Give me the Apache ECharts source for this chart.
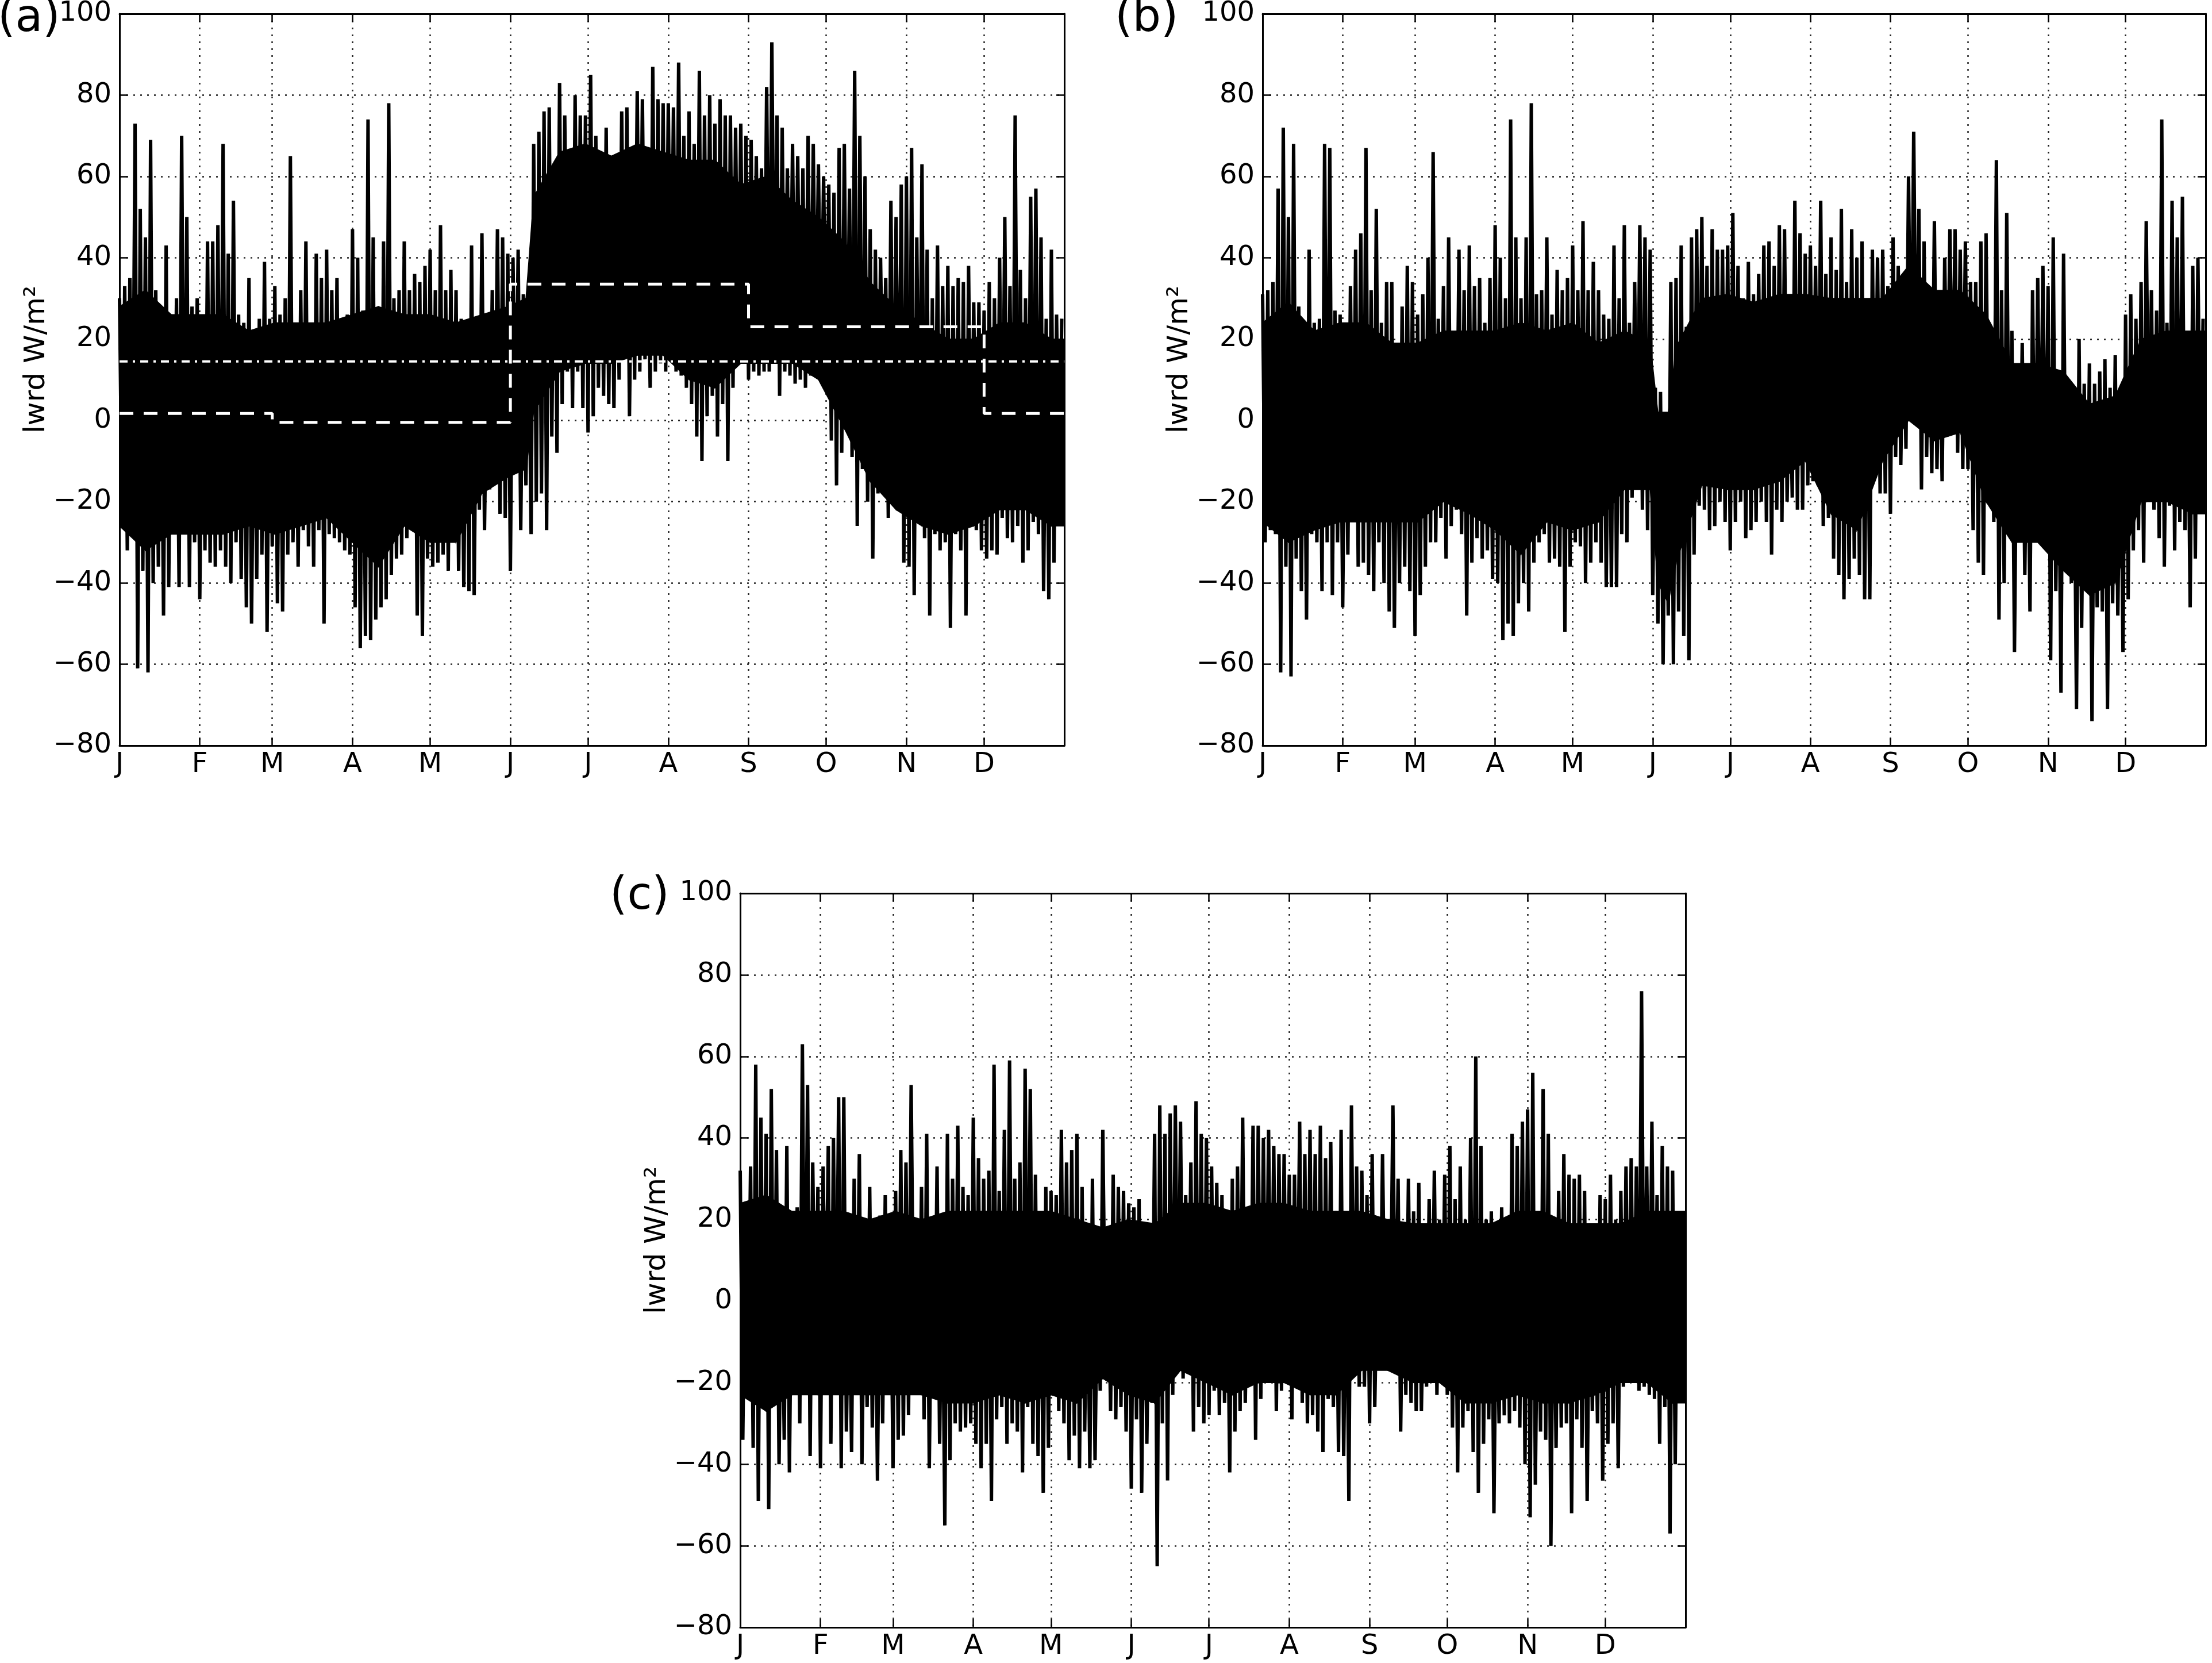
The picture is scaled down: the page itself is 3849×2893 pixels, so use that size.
<!DOCTYPE html>
<html>
<head>
<meta charset="utf-8">
<script src="https://cdn.jsdelivr.net/npm/echarts@6/dist/echarts.min.js"></script>
<style>
  html, body { margin: 0; padding: 0; background: #fff; }
  #chart { width: 3849px; height: 2893px; }
</style>
</head>
<body>
<div id="chart"></div>
<script>
// month starts (day of year) and their labels
const monthDays = [0, 31, 59, 90, 120, 151, 181, 212, 243, 273, 304, 334];
const monthLabels = ['J', 'F', 'M', 'A', 'M', 'J', 'J', 'A', 'S', 'O', 'N', 'D'];

// *High = local peak on even days (0,2,...,364), *Low = local trough on odd days (1,3,...,363)
const aHigh = [
  30, 33, 35, 73, 52, 45, 69, 32, 22, 43,
  24, 30, 70, 50, 28, 30, 20, 44, 44, 48,
  68, 41, 54, 26, 24, 35, 18, 25, 39, 25,
  33, 26, 30, 65, 21, 32, 44, 15, 41, 35,
  42, 32, 35, 20, 26, 47, 40, 27, 74, 45,
  27, 44, 78, 30, 32, 44, 32, 36, 34, 38,
  42, 32, 48, 32, 37, 32, 25, 20, 43, 24,
  46, 21, 32, 47, 45, 41, 40, 42, 31, 29,
  68, 71, 76, 77, 61, 83, 75, 64, 80, 75,
  75, 85, 70, 64, 72, 64, 65, 76, 77, 55,
  81, 79, 45, 87, 79, 78, 78, 77, 88, 70,
  76, 68, 86, 75, 80, 73, 79, 75, 75, 72,
  73, 70, 69, 65, 62, 82, 93, 75, 72, 62,
  68, 65, 62, 70, 68, 63, 60, 58, 56, 67,
  68, 57, 86, 70, 60, 47, 42, 40, 35, 54,
  50, 58, 60, 67, 45, 63, 42, 30, 43, 33,
  38, 33, 35, 34, 38, 29, 29, 27, 34, 30,
  40, 50, 33, 75, 37, 30, 55, 57, 45, 25,
  42, 26, 25
];
const aLow = [
  -25, -32, -24, -61, -37, -62, -40, -36, -48, -41,
  -26, -41, -28, -41, -30, -44, -32, -35, -36, -32,
  -36, -40, -30, -39, -46, -50, -39, -33, -52, -31,
  -45, -47, -33, -30, -36, -27, -31, -36, -27, -50,
  -28, -29, -30, -32, -33, -46, -56, -53, -54, -49,
  -46, -44, -38, -34, -33, -29, -26, -48, -53, -34,
  -36, -35, -33, -37, -30, -37, -41, -42, -43, -22,
  -27, -17, -13, -23, -24, -37, -11, -27, -16, -28,
  -20, -18, -27, -4, -8, 4, 12, 3, 12, 3,
  -3, 1, 8, 6, 4, 3, 10, 15, 1, 10,
  12, 15, 8, 12, 14, 12, 17, 12, 11, 8,
  4, -4, -10, 1, 6, -4, 4, -10, 8, 15,
  14, 10, 12, 11, 12, 12, 18, 6, 12, 11,
  9, 10, 8, 11, 17, 14, 13, -5, -16, -8,
  2, -9, -26, -12, -20, -34, -18, -2, -24, -18,
  -14, -35, -36, -43, -20, -29, -48, -28, -32, -30,
  -51, -28, -32, -48, -22, -27, -32, -34, -32, -33,
  -24, -29, -30, -26, -35, -32, -25, -28, -42, -44,
  -35, -19
];
// dense core of the trace (solid black band)
const aCoreDays = [0, 10, 20, 30, 40, 50, 60, 70, 80, 90, 100, 110, 120, 130, 140, 150, 157,
  160, 170, 180, 190, 200, 210, 220, 230, 240, 250, 260, 270, 280, 290, 300, 310, 320, 330, 340, 350, 360, 365];
const aCoreHigh = [28, 32, 26, 26, 26, 22, 24, 24, 24, 26, 28, 26, 26, 24, 26, 28, 30,
  55, 66, 68, 65, 68, 66, 64, 64, 58, 60, 54, 50, 44, 34, 28, 24, 20, 20, 24, 24, 20, 20];
const aCoreLow = [-26, -32, -28, -28, -28, -26, -28, -26, -24, -30, -36, -26, -30, -30, -18, -14, -12,
  2, 12, 14, 14, 16, 16, 10, 8, 14, 14, 14, 10, -2, -15, -22, -26, -28, -26, -22, -22, -26, -26];
// seasonal means (DJF, MAM, JJA, SON, D) and annual mean, panel (a)
const seasonStart = [0, 59, 151, 243, 334, 365];
const seasonMean = [1.7, -0.5, 33.5, 23, 1.7];
const annualMean = 14.5;

const bHigh = [
  31, 32, 34, 57, 72, 50, 68, 28, 22, 42,
  24, 25, 68, 67, 27, 26, 20, 33, 42, 46,
  67, 32, 52, 24, 34, 34, 14, 28, 38, 34,
  26, 31, 40, 66, 25, 33, 45, 16, 42, 32,
  43, 33, 35, 24, 35, 48, 40, 30, 74, 45,
  30, 45, 78, 31, 32, 45, 26, 37, 32, 35,
  43, 32, 49, 32, 39, 32, 26, 25, 43, 30,
  48, 24, 34, 48, 45, 42, 8, 7, 0, 34,
  35, 43, 23, 45, 47, 50, 38, 47, 42, 42,
  43, 51, 38, 30, 39, 31, 36, 43, 44, 38,
  48, 47, 16, 54, 46, 41, 43, 38, 54, 36,
  45, 37, 52, 34, 47, 40, 44, 22, 42, 40,
  42, 33, 45, 38, 32, 60, 71, 52, 44, 29,
  49, 24, 40, 47, 47, 42, 44, 34, 34, 44,
  46, 21, 64, 32, 51, 22, 13, 19, 11, 32,
  35, 38, 33, 45, 6, 41, 9, 2, 20, 9,
  14, 9, 12, 15, 8, 16, 5, 26, 31, 25,
  34, 49, 32, 27, 74, 24, 54, 45, 55, 17,
  38, 40, 25
];
const bLow = [
  -30, -27, -28, -62, -36, -63, -34, -42, -49, -28,
  -30, -42, -30, -43, -30, -46, -33, -25, -36, -35,
  -38, -42, -30, -40, -47, -51, -40, -36, -42, -53,
  -43, -36, -30, -30, -24, -34, -26, -22, -28, -48,
  -35, -29, -34, -32, -39, -40, -54, -50, -53, -45,
  -40, -47, -35, -30, -28, -35, -34, -36, -52, -36,
  -30, -31, -40, -35, -30, -35, -41, -41, -41, -28,
  -30, -19, -15, -22, -27, -43, -50, -60, -48, -60,
  -47, -53, -59, -33, -21, -22, -27, -26, -20, -25,
  -32, -25, -20, -29, -27, -25, -20, -25, -33, -22,
  -25, -20, -19, -22, -22, -16, -15, -16, -26, -24,
  -34, -38, -44, -39, -34, -38, -44, -44, -14, -18,
  -18, -23, -9, -11, -7, 0, 2, -17, -9, -13,
  -12, -15, -4, 1, -8, -12, -12, -27, -35, -38,
  -15, -25, -49, -40, -22, -57, -30, -38, -47, -28,
  -20, -25, -59, -42, -67, -34, -40, -71, -51, -42,
  -74, -46, -47, -71, -45, -48, -57, -44, -32, -27,
  -35, -15, -22, -29, -36, -21, -32, -25, -27, -46,
  -34, -21
];
const bCoreDays = [0, 10, 20, 30, 40, 50, 60, 70, 80, 90, 100, 110, 120, 130, 140, 150, 153, 157,
  160, 170, 180, 190, 200, 210, 220, 230, 240, 250, 260, 270, 280, 290, 300, 310, 320, 330, 340, 350, 360, 365];
const bCoreHigh = [24, 29, 22, 24, 24, 19, 19, 22, 22, 22, 24, 22, 24, 19, 22, 19, 2, 2,
  18, 30, 31, 29, 31, 31, 30, 30, 30, 38, 32, 32, 26, 14, 14, 12, 4, 6, 20, 22, 22, 22];
const bCoreLow = [-25, -30, -27, -25, -25, -25, -25, -20, -23, -27, -33, -25, -27, -25, -17, -17, -40, -45,
  -35, -16, -17, -17, -15, -10, -23, -27, -10, 0, -5, -3, -20, -30, -30, -37, -43, -40, -20, -20, -23, -23];

const cHigh = [
  32, 22, 33, 58, 45, 41, 52, 37, 14, 38,
  20, 23, 63, 53, 34, 28, 33, 38, 40, 50,
  50, 10, 30, 36, 9, 28, 18, 21, 26, 17,
  27, 37, 34, 53, 20, 28, 41, 15, 33, 14,
  41, 30, 43, 28, 26, 45, 35, 30, 32, 58,
  27, 42, 59, 30, 34, 57, 52, 31, 22, 28,
  27, 26, 42, 34, 37, 41, 28, 14, 30, 10,
  42, 12, 31, 28, 27, 24, 23, 25, 16, 14,
  41, 48, 41, 46, 48, 44, 26, 34, 49, 41,
  40, 33, 29, 26, 14, 30, 33, 45, 12, 43,
  43, 40, 42, 38, 36, 36, 31, 31, 44, 36,
  42, 36, 43, 35, 39, 20, 42, 16, 48, 33,
  32, 26, 36, 10, 36, 16, 48, 30, 18, 30,
  22, 29, 8, 25, 32, 20, 31, 38, 25, 33,
  20, 40, 60, 38, 20, 22, 10, 23, 20, 41,
  38, 44, 47, 56, 14, 52, 41, 19, 27, 36,
  31, 30, 31, 27, 16, 10, 26, 25, 31, 20,
  27, 33, 35, 33, 76, 33, 44, 26, 38, 33,
  32, 20, 21
];
const cLow = [
  -34, -20, -36, -49, -22, -51, -25, -40, -34, -42,
  -17, -30, -21, -38, -15, -41, -11, -35, -22, -41,
  -32, -37, -18, -40, -26, -31, -44, -30, -22, -41,
  -34, -33, -28, -14, -20, -29, -41, -23, -35, -55,
  -39, -30, -32, -31, -30, -35, -41, -35, -49, -29,
  -26, -35, -30, -32, -42, -26, -35, -38, -47, -36,
  -21, -27, -30, -39, -33, -41, -32, -41, -39, -22,
  -14, -27, -29, -26, -32, -46, -29, -47, -35, -25,
  -65, -30, -44, -23, -17, -19, -15, -32, -26, -30,
  -28, -22, -28, -25, -42, -32, -27, -25, -19, -34,
  -24, -20, -18, -27, -22, -20, -29, -14, -25, -30,
  -28, -32, -37, -24, -26, -37, -38, -49, -16, -21,
  -21, -30, -26, -15, -13, -10, -17, -32, -23, -25,
  -27, -27, -21, -20, -23, -20, -23, -31, -42, -31,
  -27, -37, -47, -35, -29, -52, -30, -28, -30, -27,
  -31, -40, -53, -45, -32, -34, -60, -36, -31, -30,
  -52, -29, -36, -49, -27, -30, -44, -35, -30, -41,
  -21, -18, -16, -22, -21, -23, -24, -35, -26, -57,
  -40, -24
];
const cCoreDays = [0, 10, 20, 30, 40, 50, 60, 70, 80, 90, 100, 110, 120, 130, 140, 150,
  160, 170, 180, 190, 200, 210, 220, 230, 240, 250, 260, 270, 280, 290, 300, 310, 320, 330, 340, 350, 360, 365];
const cCoreHigh = [24, 26, 22, 22, 22, 20, 22, 20, 22, 22, 22, 22, 22, 20, 18, 20,
  19, 24, 24, 22, 24, 24, 22, 22, 22, 20, 19, 19, 19, 19, 22, 22, 19, 19, 19, 22, 22, 22];
const cCoreLow = [-23, -27, -23, -23, -23, -23, -23, -23, -25, -25, -23, -25, -23, -25, -19, -23,
  -25, -17, -20, -23, -20, -20, -23, -23, -17, -17, -20, -20, -25, -25, -23, -25, -25, -23, -20, -20, -25, -25];

const panels = [
  { label: '(a)', high: aHigh, low: aLow, coreDays: aCoreDays, coreHigh: aCoreHigh, coreLow: aCoreLow, means: true },
  { label: '(b)', high: bHigh, low: bLow, coreDays: bCoreDays, coreHigh: bCoreHigh, coreLow: bCoreLow },
  { label: '(c)', high: cHigh, low: cLow, coreDays: cCoreDays, coreHigh: cCoreHigh, coreLow: cCoreLow }
];

// pixel layout of the three plot frames
const layout = [
  { left: 208, top: 21, width: 1644, height: 1276, labelLeft: -4, labelTop: -5 },
  { left: 2197, top: 21, width: 1641, height: 1276, labelLeft: 1940, labelTop: -5 },
  { left: 1288, top: 1554, width: 1645, height: 1277, labelLeft: 1061, labelTop: 1522 }
];

const FONT = 'DejaVu Sans';
const frame = { color: '#000', width: 3 };
const grid = { color: '#222', width: 2.5, type: [3, 9] };
const tick = { inside: true, length: 14, lineStyle: { color: '#000', width: 2.5 } };

const zigzag = (high, low) => {
  const pts = [];
  high.forEach((v, i) => {
    pts.push([2 * i, v]);
    if (i < low.length) pts.push([2 * i + 1, low[i]]);
  });
  return pts;
};

// core band as quads between consecutive samples: [d0, lo0, hi0, d1, lo1, hi1]
const coreSegments = pn => pn.coreDays.slice(1).map((d, i) => [
  pn.coreDays[i], pn.coreLow[i], pn.coreHigh[i], d, pn.coreLow[i + 1], pn.coreHigh[i + 1]
]);

const renderBand = (params, api) => {
  const p0 = api.coord([api.value(0), api.value(1)]);
  const p1 = api.coord([api.value(3), api.value(4)]);
  const p2 = api.coord([api.value(3), api.value(5)]);
  const p3 = api.coord([api.value(0), api.value(2)]);
  return {
    type: 'polygon',
    shape: { points: [p0, p1, p2, p3] },
    style: { fill: '#000', stroke: '#000', lineWidth: 1.5 }
  };
};

const xAxis = [];
const yAxis = [];
const series = [];

panels.forEach((pn, p) => {
  xAxis.push({
    type: 'value', gridIndex: p, min: 0, max: 365, position: 'bottom',
    axisLine: { show: true, onZero: false, lineStyle: frame },
    axisTick: Object.assign({ show: true, customValues: monthDays }, tick),
    axisLabel: {
      customValues: monthDays, formatter: v => monthLabels[monthDays.indexOf(v)] || '',
      fontSize: 48, fontFamily: FONT, color: '#000', margin: 10
    },
    splitLine: { show: true, lineStyle: grid }
  }, {
    type: 'value', gridIndex: p, min: 0, max: 365, position: 'top',
    axisLine: { show: true, onZero: false, lineStyle: frame },
    axisTick: Object.assign({ show: true, customValues: monthDays }, tick),
    axisLabel: { show: false },
    splitLine: { show: false }
  });
  yAxis.push({
    type: 'value', gridIndex: p, min: -80, max: 100, interval: 20, position: 'left',
    name: 'lwrd W/m²', nameLocation: 'middle', nameGap: 86,
    nameTextStyle: { fontSize: 50, fontFamily: FONT, color: '#000', padding: [0, 0, 0, 70] },
    axisLine: { show: true, onZero: false, lineStyle: frame },
    axisTick: Object.assign({ show: true }, tick),
    axisLabel: {
      formatter: v => (v < 0 ? '\u2212' + (-v) : String(v)),
      fontSize: 48, fontFamily: FONT, color: '#000', margin: 14
    },
    splitLine: { show: true, lineStyle: grid }
  }, {
    type: 'value', gridIndex: p, min: -80, max: 100, interval: 20, position: 'right',
    axisLine: { show: true, onZero: false, lineStyle: frame },
    axisTick: Object.assign({ show: true }, tick),
    axisLabel: { show: false },
    splitLine: { show: false }
  });

  const xi = 2 * p, yi = 2 * p;
  series.push({
    type: 'custom', xAxisIndex: xi, yAxisIndex: yi, silent: true, z: 2,
    renderItem: renderBand,
    encode: { x: [0, 3], y: [1, 2, 4, 5] },
    data: coreSegments(pn)
  }, {
    type: 'line', xAxisIndex: xi, yAxisIndex: yi, symbol: 'none', silent: true, z: 3,
    lineStyle: { color: '#000', width: 6, join: 'bevel', cap: 'butt' },
    data: zigzag(pn.high, pn.low)
  });

  if (pn.means) {
    series.push({
      type: 'line', xAxisIndex: xi, yAxisIndex: yi, symbol: 'none', silent: true, z: 6,
      step: 'end',
      lineStyle: { color: '#fff', width: 5, type: [24, 18] },
      data: seasonStart.map((d, i) => [d, seasonMean[Math.min(i, seasonMean.length - 1)]])
    }, {
      type: 'line', xAxisIndex: xi, yAxisIndex: yi, symbol: 'none', silent: true, z: 6,
      lineStyle: { color: '#fff', width: 4, type: [14, 9, 4, 9] },
      data: [[0, annualMean], [365, annualMean]]
    });
  }
});

const chart = echarts.init(document.getElementById('chart'), null, { renderer: 'canvas' });
chart.setOption({
  animation: false,
  backgroundColor: '#fff',
  title: panels.map((pn, p) => ({
    text: pn.label, left: layout[p].labelLeft, top: layout[p].labelTop, padding: 0,
    textStyle: { fontSize: 78, fontWeight: 'normal', fontFamily: FONT, color: '#000' }
  })),
  grid: layout.map(l => ({ left: l.left, top: l.top, width: l.width, height: l.height, containLabel: false })),
  xAxis,
  yAxis,
  series
});
</script>
</body>
</html>
